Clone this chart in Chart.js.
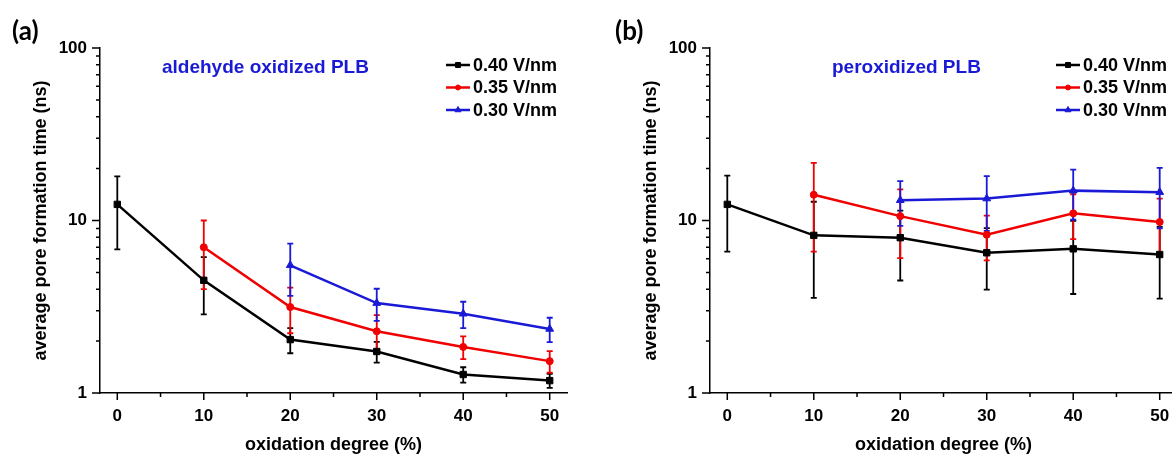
<!DOCTYPE html>
<html>
<head>
<meta charset="utf-8">
<script src="https://cdn.jsdelivr.net/npm/chart.js@4/dist/chart.umd.min.js"></script>
<style>
  html, body { margin: 0; padding: 0; background: #fff; overflow: hidden; }
  body { width: 1172px; height: 454px; position: relative; }
  .panel { position: absolute; top: 0; width: 586px; height: 454px; }
  #panelA { left: 0; }
  #panelB { left: 610px; }
</style>
</head>
<body>
<div class="panel" id="panelA"><canvas id="chartA" width="586" height="454"></canvas></div>
<div class="panel" id="panelB"><canvas id="chartB" width="586" height="454"></canvas></div>
<script>
// x categories (oxidation degree, %)
const oxidation = [0, 10, 20, 30, 40, 50];
const fieldLabels = ['0.40 V/nm', '0.35 V/nm', '0.30 V/nm'];
const xTicks = [0, 5, 10, 15, 20, 25, 30, 35, 40, 45, 50];
const yTicks = [1, 2, 3, 4, 5, 6, 7, 8, 9, 10, 20, 30, 40, 50, 60, 70, 80, 90, 100];
const yLabels = [1, 10, 100];

// (a) aldehyde oxidized PLB, values and error (ns)
const aldehyde040 = [12.4, 4.5, 2.04, 1.74, 1.28, 1.18];
const aldehyde040Err = [5.6, 1.64, 0.34, 0.24, 0.13, 0.11];
const aldehyde035 = [null, 7.0, 3.15, 2.28, 1.85, 1.53];
const aldehyde035Err = [null, 3.0, 0.93, 0.55, 0.28, 0.22];
const aldehyde030 = [null, null, 5.5, 3.32, 2.88, 2.35];
const aldehyde030Err = [null, null, 1.84, 0.7, 0.5, 0.38];

// (b) peroxidized PLB
const peroxide040 = [12.4, 8.2, 7.95, 6.5, 6.85, 6.35];
const peroxide040Err = [5.8, 4.64, 3.46, 2.53, 3.1, 2.83];
const peroxide035 = [null, 14.1, 10.6, 8.27, 11.0, 9.8];
const peroxide035Err = [null, 7.5, 4.55, 2.4, 3.2, 3.6];
const peroxide030 = [null, null, 13.1, 13.4, 14.9, 14.6];
const peroxide030Err = [null, null, 3.8, 4.7, 4.8, 5.6];

const FONT = '"Liberation Sans", Arial, sans-serif';
const BLACK = '#000000';
const RED = '#f00000';
const BLUE = '#1a1ad6';

Chart.defaults.font.family = FONT;
Chart.defaults.font.weight = 'bold';
Chart.defaults.color = '#000';

function toPoints(values, errs) {
  return values
    .map((v, i) => ({ x: oxidation[i], y: v, err: errs[i] }))
    .filter(p => p.y !== null);
}

function makeDataset(label, values, errs, color, style, radius) {
  return {
    label,
    data: toPoints(values, errs),
    borderColor: color,
    backgroundColor: color,
    borderWidth: 2.5,
    pointStyle: style,
    pointRadius: radius,
    pointBorderWidth: 1,
    tension: 0
  };
}

const errorBars = {
  id: 'errorBars',
  beforeDatasetsDraw(chart) {
    const { ctx, scales: { x, y } } = chart;
    chart.data.datasets.forEach(ds => {
      ctx.save();
      ctx.strokeStyle = ds.borderColor;
      ctx.lineWidth = 1.8;
      ds.data.forEach(p => {
        const px = x.getPixelForValue(p.x);
        const top = y.getPixelForValue(p.y + p.err);
        const bot = y.getPixelForValue(p.y - p.err);
        ctx.beginPath();
        ctx.moveTo(px, top);
        ctx.lineTo(px, bot);
        ctx.moveTo(px - 3, top);
        ctx.lineTo(px + 3, top);
        ctx.moveTo(px - 3, bot);
        ctx.lineTo(px + 3, bot);
        ctx.stroke();
      });
      ctx.restore();
    });
  }
};

// major / minor tick marks, outward like the original plot
const tickMarks = {
  id: 'tickMarks',
  afterDraw(chart) {
    const { ctx, chartArea, scales: { x, y } } = chart;
    ctx.save();
    ctx.strokeStyle = '#000';
    ctx.lineWidth = 1.5;
    ctx.beginPath();
    x.ticks.forEach(t => {
      const px = x.getPixelForValue(t.value);
      const len = t.value % 10 === 0 ? 7 : 4;
      ctx.moveTo(px, chartArea.bottom);
      ctx.lineTo(px, chartArea.bottom + len);
    });
    y.ticks.forEach(t => {
      const py = y.getPixelForValue(t.value);
      const len = Number.isInteger(Math.log10(t.value)) ? 8 : 4;
      ctx.moveTo(chartArea.left, py);
      ctx.lineTo(chartArea.left - len, py);
    });
    ctx.stroke();
    ctx.restore();
  }
};

const panelText = {
  id: 'panelText',
  afterDraw(chart, args, opts) {
    const ctx = chart.ctx;
    ctx.save();
    ctx.textBaseline = 'alphabetic';
    ctx.textAlign = 'left';
    ctx.fillStyle = '#000';
    ctx.font = 'bold 26px Lato, ' + FONT;
    ctx.fillText(opts.tag, opts.tagX, 40);

    ctx.textBaseline = 'middle';
    ctx.fillStyle = BLUE;
    ctx.font = 'bold 19px ' + FONT;
    ctx.fillText(opts.note, opts.noteX, 68);

    // legend
    ctx.font = 'bold 18px ' + FONT;
    chart.data.datasets.forEach((ds, i) => {
      const ly = 65 + i * 22.5;
      ctx.strokeStyle = ds.borderColor;
      ctx.fillStyle = ds.borderColor;
      ctx.lineWidth = 2.5;
      ctx.beginPath();
      ctx.moveTo(446, ly);
      ctx.lineTo(470, ly);
      ctx.stroke();
      ctx.lineWidth = 1;
      Chart.helpers.drawPoint(ctx, { pointStyle: ds.pointStyle, radius: ds.pointRadius - 1, rotation: 0, borderWidth: 1 }, 458, ly);
      ctx.fillStyle = '#000';
      ctx.fillText(ds.label, 473, ly + 1);
    });
    ctx.restore();
  }
};

function makeChart(canvasId, datasets, tag, note, noteX) {
  const ctx = document.getElementById(canvasId).getContext('2d');
  return new Chart(ctx, {
    type: 'line',
    data: { datasets },
    options: {
      responsive: false,
      animation: false,
      devicePixelRatio: 1,
      events: [],
      layout: { padding: { top: 48, right: 19, left: 0, bottom: 0 } },
      plugins: {
        legend: { display: false },
        tooltip: { enabled: false },
        panelText: { tag, tagX: tag === '(a)' ? 12 : 5, note, noteX }
      },
      scales: {
        x: {
          type: 'linear',
          min: -2,
          max: 52,
          bounds: 'data',
          afterBuildTicks: s => { s.ticks = xTicks.map(v => ({ value: v })); },
          afterFit: s => { s.height = 61; },
          grid: { display: false, drawTicks: false },
          border: { display: true, color: '#000', width: 1.5 },
          ticks: {
            autoSkip: false,
            maxRotation: 0,
            padding: 13,
            color: '#000',
            font: { size: 17, weight: 'bold' },
            callback: v => (v % 10 === 0 ? String(v) : '')
          },
          title: {
            display: true,
            text: 'oxidation degree (%)',
            color: '#000',
            font: { size: 18, weight: 'bold', lineHeight: 1 },
            padding: 0
          }
        },
        y: {
          type: 'logarithmic',
          min: 1,
          max: 100,
          bounds: 'data',
          afterBuildTicks: s => { s.ticks = yTicks.map(v => ({ value: v })); },
          afterFit: s => { s.width = 100; },
          grid: { display: false, drawTicks: false },
          border: { display: true, color: '#000', width: 1.5 },
          ticks: {
            autoSkip: false,
            padding: 13,
            color: '#000',
            font: { size: 17, weight: 'bold' },
            callback: v => (yLabels.includes(v) ? String(v) : '')
          },
          title: {
            display: true,
            text: 'average pore formation time (ns)',
            color: '#000',
            font: { size: 18, weight: 'bold', lineHeight: 1 },
            padding: { top: 32, bottom: 0 }
          }
        }
      }
    },
    plugins: [errorBars, tickMarks, panelText]
  });
}

makeChart('chartA', [
  makeDataset(fieldLabels[0], aldehyde040, aldehyde040Err, BLACK, 'rect', 4.5),
  makeDataset(fieldLabels[1], aldehyde035, aldehyde035Err, RED, 'circle', 3.5),
  makeDataset(fieldLabels[2], aldehyde030, aldehyde030Err, BLUE, 'triangle', 4.5)
], '(a)', 'aldehyde oxidized PLB', 162);

makeChart('chartB', [
  makeDataset(fieldLabels[0], peroxide040, peroxide040Err, BLACK, 'rect', 4.5),
  makeDataset(fieldLabels[1], peroxide035, peroxide035Err, RED, 'circle', 3.5),
  makeDataset(fieldLabels[2], peroxide030, peroxide030Err, BLUE, 'triangle', 4.5)
], '(b)', 'peroxidized PLB', 222);
</script>
</body>
</html>
